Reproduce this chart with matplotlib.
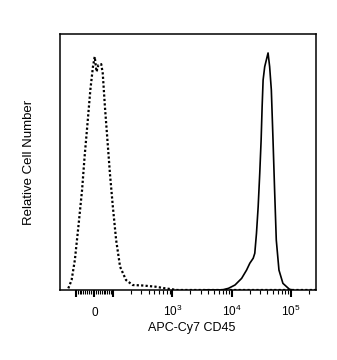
import numpy as np
import matplotlib
matplotlib.use("Agg")
import matplotlib.pyplot as plt
from matplotlib.ticker import FixedLocator

plt.rcParams['font.family'] = ['Liberation Sans', 'DejaVu Sans']
plt.rcParams['mathtext.fontset'] = 'custom'
plt.rcParams['mathtext.rm'] = 'Liberation Sans'
plt.rcParams['mathtext.it'] = 'Liberation Sans'

# isotype control (dotted), fluorescence vs relative count
iso_x = [-134, -118, -104, -86.5, -66.5, -52.9, -37.1, -21.8, -7.6, 1.8,
         11.8, 21.8, 37.1, 45.3, 57.1, 70.6, 84.1, 100, 113.5, 132.3, 166.6,
         215.4, 316, 520, 764, 1212, 10000, 100000, 262000]
iso_y = [0.7, 4.2, 12.7, 26.7, 42.2, 56.2, 70.3, 84.4, 94.2, 98.4,
         92.1, 94.9, 95.3, 91.4, 77.3, 63.3, 49.2, 35.1, 21.1, 9.8, 4.2,
         2.1, 1.9, 1.4, 0.7, 0, 0, 0, 0]

# APC-Cy7 CD45 stained (solid)
cd45_x = [3550, 6810, 8810, 11350, 14680, 17780, 20180, 23000, 24450, 26100,
          27860, 29630, 31260, 32490, 33750, 35900, 40890, 43480, 46420,
          49550, 52680, 56230, 62370, 72730, 93700, 108000]
cd45_y = [0, 0, 0.7, 2.1, 4.9, 8.4, 11.3, 13.4, 15.5, 23.9,
          35.1, 49.2, 63.3, 77.3, 88.6, 94.2, 100, 94.2, 84.4,
          63.3, 42.2, 21.1, 8.4, 2.8, 0.3, 0]

major_ticks = [-100, 0, 100, 1e3, 1e4, 1e5]
major_labels = ['', '0', '', r'$10^3$', r'$10^4$', r'$10^5$']
minor_ticks = ([-v for v in range(10, 100, 10)] + list(range(10, 100, 10))
               + list(range(200, 1000, 100)) + list(range(2000, 10000, 1000))
               + list(range(20000, 100000, 10000)) + [200000])

fig = plt.figure(figsize=(3.37, 3.6), dpi=100)
ax = fig.add_axes([60 / 337, 70 / 360, 256 / 337, 256 / 360])

ax.set_xscale('symlog', base=10, linthresh=100, linscale=0.28)
ax.plot(iso_x, iso_y, color='black', lw=1.6, linestyle=(0, (1, 1)))
ax.plot(cd45_x, cd45_y, color='black', lw=1.2)

ax.set_xlim(-185, 262000)
ax.set_ylim(0, 108)

ax.xaxis.set_major_locator(FixedLocator(major_ticks))
ax.xaxis.set_minor_locator(FixedLocator(minor_ticks))
ax.set_xticklabels(major_labels)
ax.tick_params(axis='x', which='major', length=5, width=1.5, labelsize=8.5, pad=14)
ax.tick_params(axis='x', which='minor', length=3, width=0.8)
for lab in ax.get_xticklabels():
    lab.set_verticalalignment('baseline')
ax.set_yticks([])

for sp in ax.spines.values():
    sp.set_linewidth(1.1)

ax.set_xlabel('APC-Cy7 CD45', fontsize=9)
ax.xaxis.set_label_coords(0.515, -0.125)
ax.set_ylabel('Relative Cell Number', fontsize=9.5, labelpad=18)

fig.savefig('out.png', dpi=100)
